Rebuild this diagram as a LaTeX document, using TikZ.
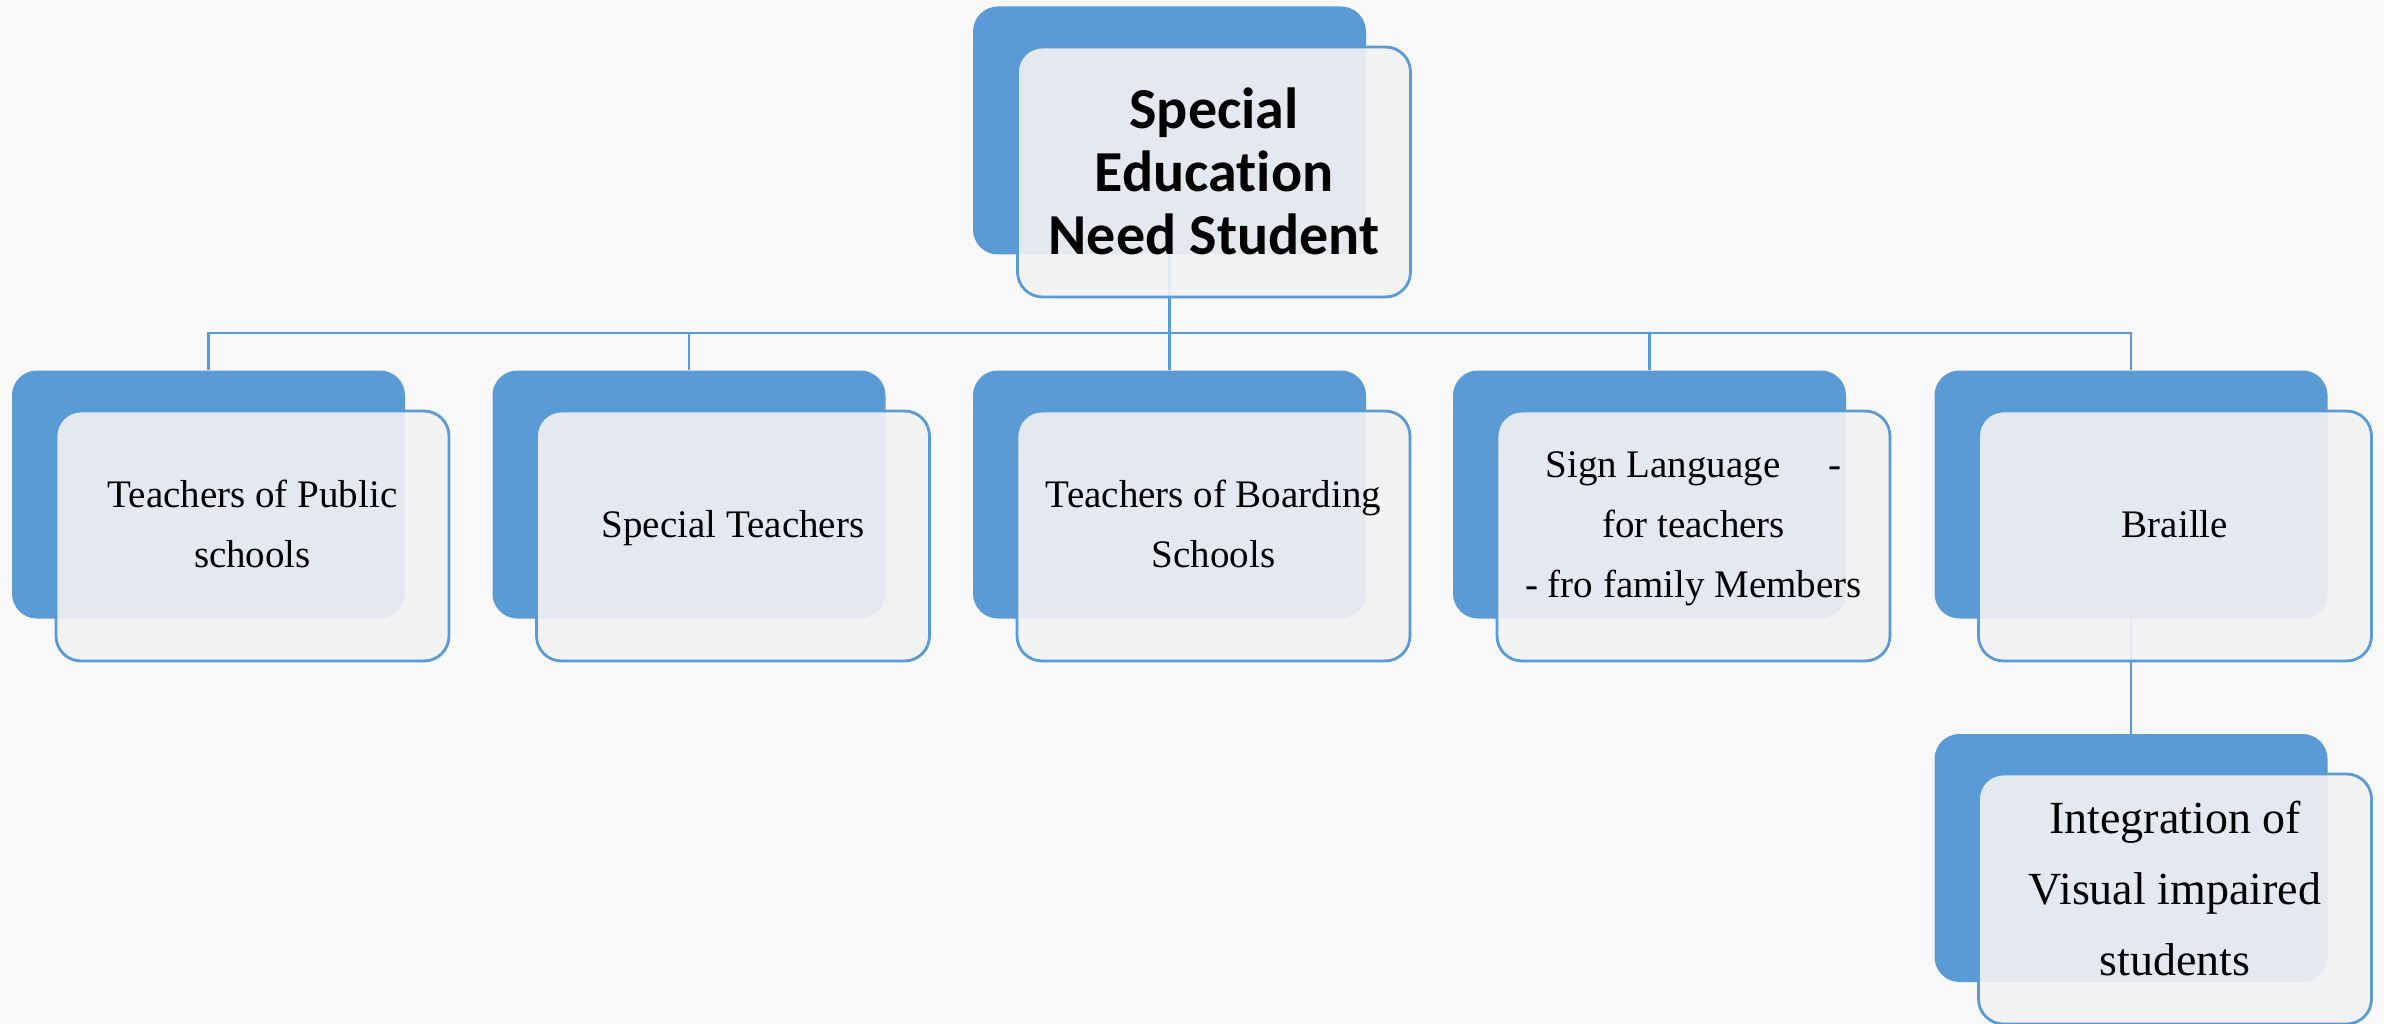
\documentclass[tikz,border=0pt]{standalone}
\usepackage{fontspec}
\setmainfont{Liberation Serif}
\newfontfamily\rootfont[Ligatures=NoCommon]{Carlito}
\definecolor{bgc}{HTML}{F8F8F8}
\definecolor{accent}{HTML}{5B9BD5}
\definecolor{frontc}{HTML}{F2F2F2}
\tikzset{
  backbox/.style={fill=accent, draw=none, rounded corners=25pt, minimum width=393pt, minimum height=248pt, inner sep=0pt},
  frontbox/.style={fill=frontc, fill opacity=0.9, draw=accent, draw opacity=1, line width=2.8pt, rounded corners=25pt, minimum width=393pt, minimum height=250pt, inner sep=0pt},
  conn/.style={draw=accent, line width=2.8pt},
  txt/.style={align=center, inner sep=0pt, text=black, font=\fontsize{39}{60}\selectfont},
  bigtxt/.style={align=center, inner sep=0pt, text=black, font=\fontsize{46}{71}\selectfont},
  roottxt/.style={align=center, inner sep=0pt, text=black, font=\rootfont\bfseries\fontsize{58}{63}\selectfont}
}
\begin{document}
\begin{tikzpicture}[x=1pt,y=-1pt]
\fill[bgc] (0,0) rectangle (2384,1024);
\useasboundingbox (0,0) rectangle (2384,1024);
% back boxes
\node[backbox] (rb) at (1169.5,130.5) {};
\node[backbox] (b1) at (208.5,494.5) {};
\node[backbox] (b2) at (689,494.5) {};
\node[backbox] (b3) at (1169.5,494.5) {};
\node[backbox] (b4) at (1649.5,494.5) {};
\node[backbox] (b5) at (2131,494.5) {};
\node[backbox] (b6) at (2131,858) {};
% connectors
\coordinate (bus) at (1169.5,333);
\draw[conn] (rb.south) -- (bus);
\draw[conn] (bus) -| (b1.north);
\draw[conn] (bus) -| (b2.north);
\draw[conn] (bus) -- (b3.north);
\draw[conn] (bus) -| (b4.north);
\draw[conn] (bus) -| (b5.north);
\draw[conn] (b5.south) -- (b6.north);
% front boxes
\node[frontbox] (rf) at (1214,172) {};
\node[frontbox] (f1) at (252.5,536) {};
\node[frontbox] (f2) at (733,536) {};
\node[frontbox] (f3) at (1213.5,536) {};
\node[frontbox] (f4) at (1693.5,536) {};
\node[frontbox] (f5) at (2175,536) {};
\node[frontbox] (f6) at (2175,899) {};
% texts
\node[roottxt] (rt) at ([yshift=-6.5pt]rf.center) {\strut Special\\\strut Education\\\strut Need Student};
\node[txt] (t1) at ([yshift=11pt]f1.center) {\strut Teachers of Public\\\strut schools};
\node[txt] (t2) at ([yshift=11pt]f2.center) {\strut Special Teachers};
\node[txt] (t3) at ([yshift=11pt]f3.center) {\strut Teachers of Boarding\\\strut Schools};
\node[txt] (t4) at ([yshift=11pt]f4.center) {\strut Sign Language\hspace{48pt}-\\\strut for teachers\\\strut - fro family Members};
\node[txt] (t5) at ([yshift=11pt]f5.center) {\strut Braille};
\node[bigtxt] (t6) at ([yshift=9pt]f6.center) {\strut Integration of\\\strut Visual impaired\\\strut students};
\end{tikzpicture}
\end{document}
